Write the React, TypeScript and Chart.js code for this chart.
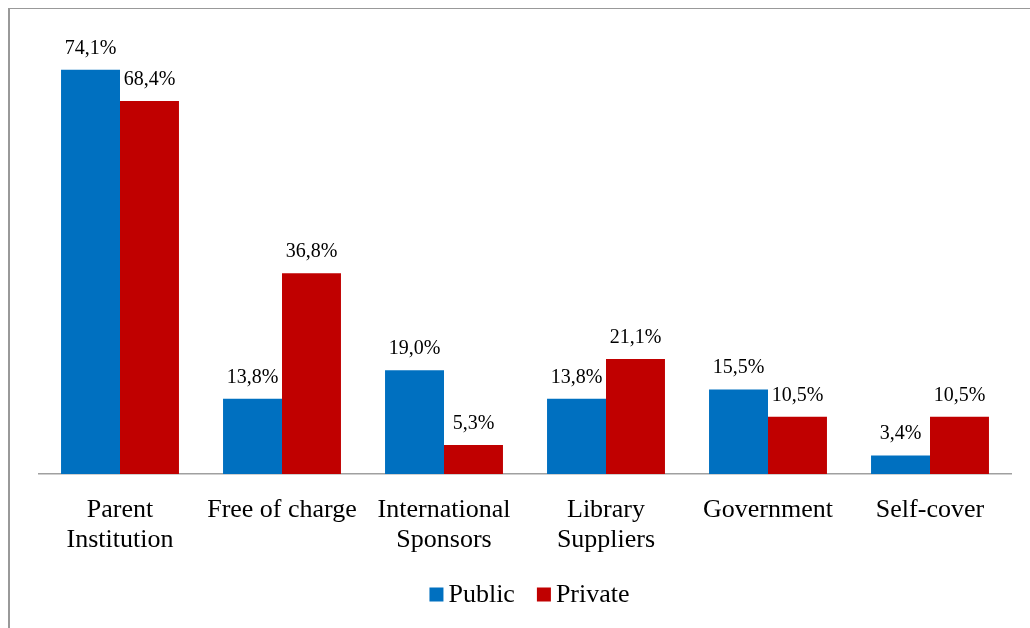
import React, { useEffect, useRef } from "react";
import { Chart, registerables } from "chart.js";

Chart.register(...registerables);

const categories: (string | string[])[] = [
  ["Parent", "Institution"],
  "Free of charge",
  ["International", "Sponsors"],
  ["Library", "Suppliers"],
  "Government",
  "Self-cover",
];
const seriesNames = ["Public", "Private"];
const publicValues = [74.1, 13.8, 19.0, 13.8, 15.5, 3.4];
const privateValues = [68.4, 36.8, 5.3, 21.1, 10.5, 10.5];
const seriesColors = ["#0070C0", "#C00000"];

const FONT = "'Liberation Serif', 'Times New Roman', serif";

const fmt = (v: number) => v.toFixed(1).replace(".", ",") + "%";

const labelsPlugin = {
  id: "valueLabels",
  afterDatasetsDraw(chart: any) {
    const ctx = chart.ctx;
    ctx.save();
    ctx.font = `20px ${FONT}`;
    ctx.fillStyle = "#000";
    ctx.textAlign = "center";
    ctx.textBaseline = "alphabetic";
    chart.data.datasets.forEach((ds: any, i: number) => {
      const meta = chart.getDatasetMeta(i);
      meta.data.forEach((bar: any, j: number) => {
        const { x, y } = bar.getProps(["x", "y"], true);
        ctx.fillText(fmt(ds.data[j]), x, y - 16);
      });
    });
    ctx.restore();
  },
};

const legendPlugin = {
  id: "customLegend",
  afterDraw(chart: any) {
    const ctx = chart.ctx;
    ctx.save();
    ctx.font = `26px ${FONT}`;
    ctx.textBaseline = "middle";
    ctx.textAlign = "left";
    const box = 14;
    const gap = 5;
    const itemGap = 22;
    const items = chart.data.datasets.map((ds: any) => ({
      text: ds.label,
      color: ds.backgroundColor,
      w: ctx.measureText(ds.label).width,
    }));
    const total =
      items.reduce((s: number, it: any) => s + box + gap + it.w, 0) +
      itemGap * (items.length - 1);
    const cx = 521.5;
    const cy = chart.chartArea.bottom + 120.5;
    let x = cx - total / 2;
    items.forEach((it: any) => {
      ctx.fillStyle = it.color;
      ctx.fillRect(x, cy - box / 2, box, box);
      ctx.fillStyle = "#000";
      ctx.fillText(it.text, x + box + gap, cy + 1);
      x += box + gap + it.w + itemGap;
    });
    ctx.restore();
  },
};

export default function App() {
  const canvasRef = useRef<HTMLCanvasElement | null>(null);

  useEffect(() => {
    if (!canvasRef.current) return;
    const chart = new Chart(canvasRef.current, {
      type: "bar",
      data: {
        labels: categories,
        datasets: [
          {
            label: seriesNames[0],
            data: publicValues,
            backgroundColor: seriesColors[0],
            categoryPercentage: 0.728,
            barPercentage: 1,
          },
          {
            label: seriesNames[1],
            data: privateValues,
            backgroundColor: seriesColors[1],
            categoryPercentage: 0.728,
            barPercentage: 1,
          },
        ],
      },
      options: {
        animation: false,
        responsive: false,
        devicePixelRatio: 1,
        layout: { padding: { left: 31, right: 19, top: 29.6, bottom: 54 } },
        plugins: {
          legend: { display: false },
          tooltip: { enabled: false },
        },
        scales: {
          y: { display: false, min: 0, max: 80 },
          x: {
            grid: { display: false, drawTicks: false },
            border: { display: true, color: "#a0a0a0", width: 1.5 },
            ticks: {
              color: "#000",
              padding: 21,
              maxRotation: 0,
              autoSkip: false,
              font: { family: FONT, size: 26, lineHeight: "30px" as any },
            },
            afterFit: (s: any) => {
              s.height = 100;
            },
          },
        },
      },
      plugins: [labelsPlugin, legendPlugin],
    });
    return () => chart.destroy();
  }, []);

  return (
    <div
      style={{
        position: "fixed",
        left: 8,
        top: 8,
        width: 1022,
        height: 620,
        overflow: "hidden",
        background: "#fff",
      }}
    >
      <div
        style={{
          position: "absolute",
          left: 0,
          top: -1,
          width: 1100,
          height: 700,
          border: "2px solid #999999",
        }}
      />
      <canvas
        ref={canvasRef}
        width={1022}
        height={620}
        style={{ position: "absolute", left: 0, top: 0, width: 1022, height: 620 }}
      />
    </div>
  );
}
